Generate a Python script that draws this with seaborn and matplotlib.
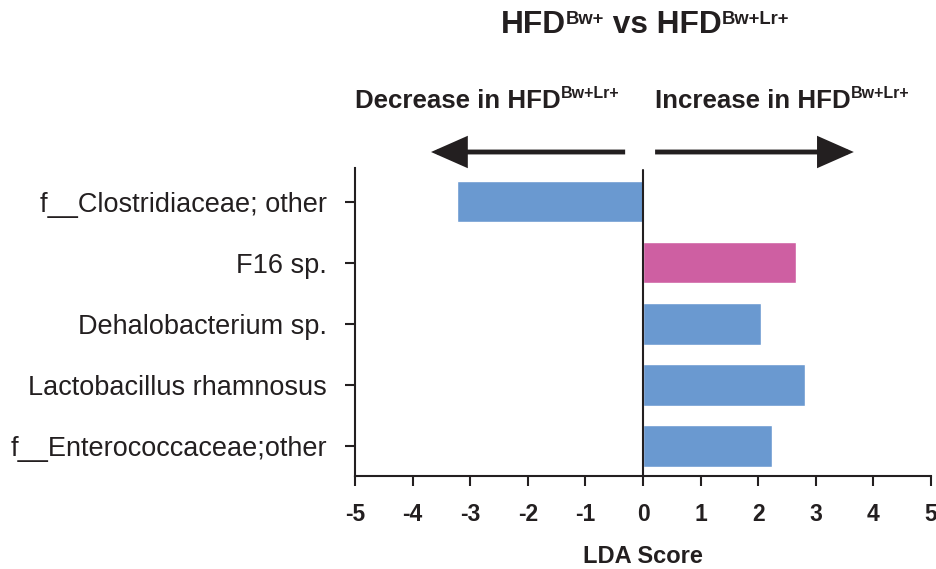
import matplotlib
matplotlib.use("Agg")
import matplotlib.pyplot as plt
from matplotlib.transforms import offset_copy
import seaborn as sns
import pandas as pd

categories = ["f__Clostridiaceae; other", "F16 sp.", "Dehalobacterium sp.",
              "Lactobacillus rhamnosus", "f__Enterococcaceae;other"]
lda_scores = [-3.23, 2.65, 2.04, 2.81, 2.24]
bar_colors = ["#6A99D0", "#CE5FA2", "#6A99D0", "#6A99D0", "#6A99D0"]
x_ticks = [-5, -4, -3, -2, -1, 0, 1, 2, 3, 4, 5]
x_tick_labels = ["-5", "-4", "-3", "-2", "-1", "0", "1", "2", "3", "4", "5"]
title_parts = [("HFD", False), ("Bw+", True), (" vs HFD", False), ("Bw+Lr+", True)]
left_parts = [("Decrease in HFD", False), ("Bw+Lr+", True)]
right_parts = [("Increase in HFD", False), ("Bw+Lr+", True)]

sns.set_theme(style="white")
plt.rcParams["font.family"] = ["Liberation Sans", "DejaVu Sans"]

dark = "#231F20"
df = pd.DataFrame({"cat": categories, "score": lda_scores})

fig = plt.figure(figsize=(9.37, 5.69), dpi=100)
ax = fig.add_axes([355/937, 1-476/569, (931-355)/937, (476-168)/569])

sns.barplot(data=df, x="score", y="cat", hue="cat", palette=bar_colors,
            orient="h", width=0.68, legend=False, ax=ax, saturation=1)

ax.set_xlim(-5, 5)
ax.set_ylim(4.49, -0.55)
ax.set_xticks(x_ticks)
ax.set_xticklabels(x_tick_labels, fontsize=16.5, fontweight="bold", color=dark)
ax.tick_params(axis="y", labelsize=19.5, labelcolor=dark)
ax.tick_params(axis="both", direction="out", length=7.2, width=1.5, color=dark,
               left=True, bottom=True)
ax.tick_params(axis="x", pad=12)
ax.tick_params(axis="y", pad=13)
ax.set_ylabel("")
ax.set_xlabel("")

for s in ["top", "right"]:
    ax.spines[s].set_visible(False)
for s in ["left", "bottom"]:
    ax.spines[s].set_linewidth(1.5)
    ax.spines[s].set_color(dark)

ax.axvline(0, ymin=0, ymax=0.995, color=dark, lw=1.5)

fig.text(643/937, 1-563/569, "LDA Score", ha="center", va="baseline",
         fontsize=17, fontweight="bold", color=dark)

renderer = fig.canvas.get_renderer()


def rich_text(x_px, y_px_top, parts, size, ha="left", sup_scale=0.6, raise_em=0.36):
    x = x_px / 937
    y = 1 - y_px_top / 569
    items = []
    cur = 0.0
    for s, sup in parts:
        fs = size * sup_scale if sup else size
        dy = size * raise_em if sup else 0.0
        t = fig.text(x, y, s, fontsize=fs, fontweight="bold", color=dark,
                     va="baseline", ha="left",
                     transform=offset_copy(fig.transFigure, fig, x=cur, y=dy, units="points"))
        w = t.get_window_extent(renderer).width * 72 / fig.dpi
        items.append((t, cur, dy))
        cur += w
    if ha == "center":
        for t, c, dy in items:
            t.set_transform(offset_copy(fig.transFigure, fig, x=c - cur / 2, y=dy, units="points"))


rich_text(645, 33, title_parts, 22.8, ha="center", sup_scale=0.58, raise_em=0.3)
rich_text(355, 108.3, left_parts, 18.6, sup_scale=0.62, raise_em=0.38)
rich_text(655, 108.3, right_parts, 18.6, sup_scale=0.62, raise_em=0.38)

arrow_kw = dict(arrowstyle="-|>,head_length=1.7,head_width=0.75", lw=3.5, color=dark,
                shrinkA=0, shrinkB=0, capstyle="butt", joinstyle="miter",
                mutation_scale=12)
ax.annotate("", xy=(-3.68, 569-152), xytext=(-0.31, 569-152),
            xycoords=("data", "figure pixels"), textcoords=("data", "figure pixels"),
            arrowprops=arrow_kw, annotation_clip=False)
ax.annotate("", xy=(3.66, 569-152), xytext=(0.21, 569-152),
            xycoords=("data", "figure pixels"), textcoords=("data", "figure pixels"),
            arrowprops=arrow_kw, annotation_clip=False)

fig.savefig("out.png", dpi=100)
